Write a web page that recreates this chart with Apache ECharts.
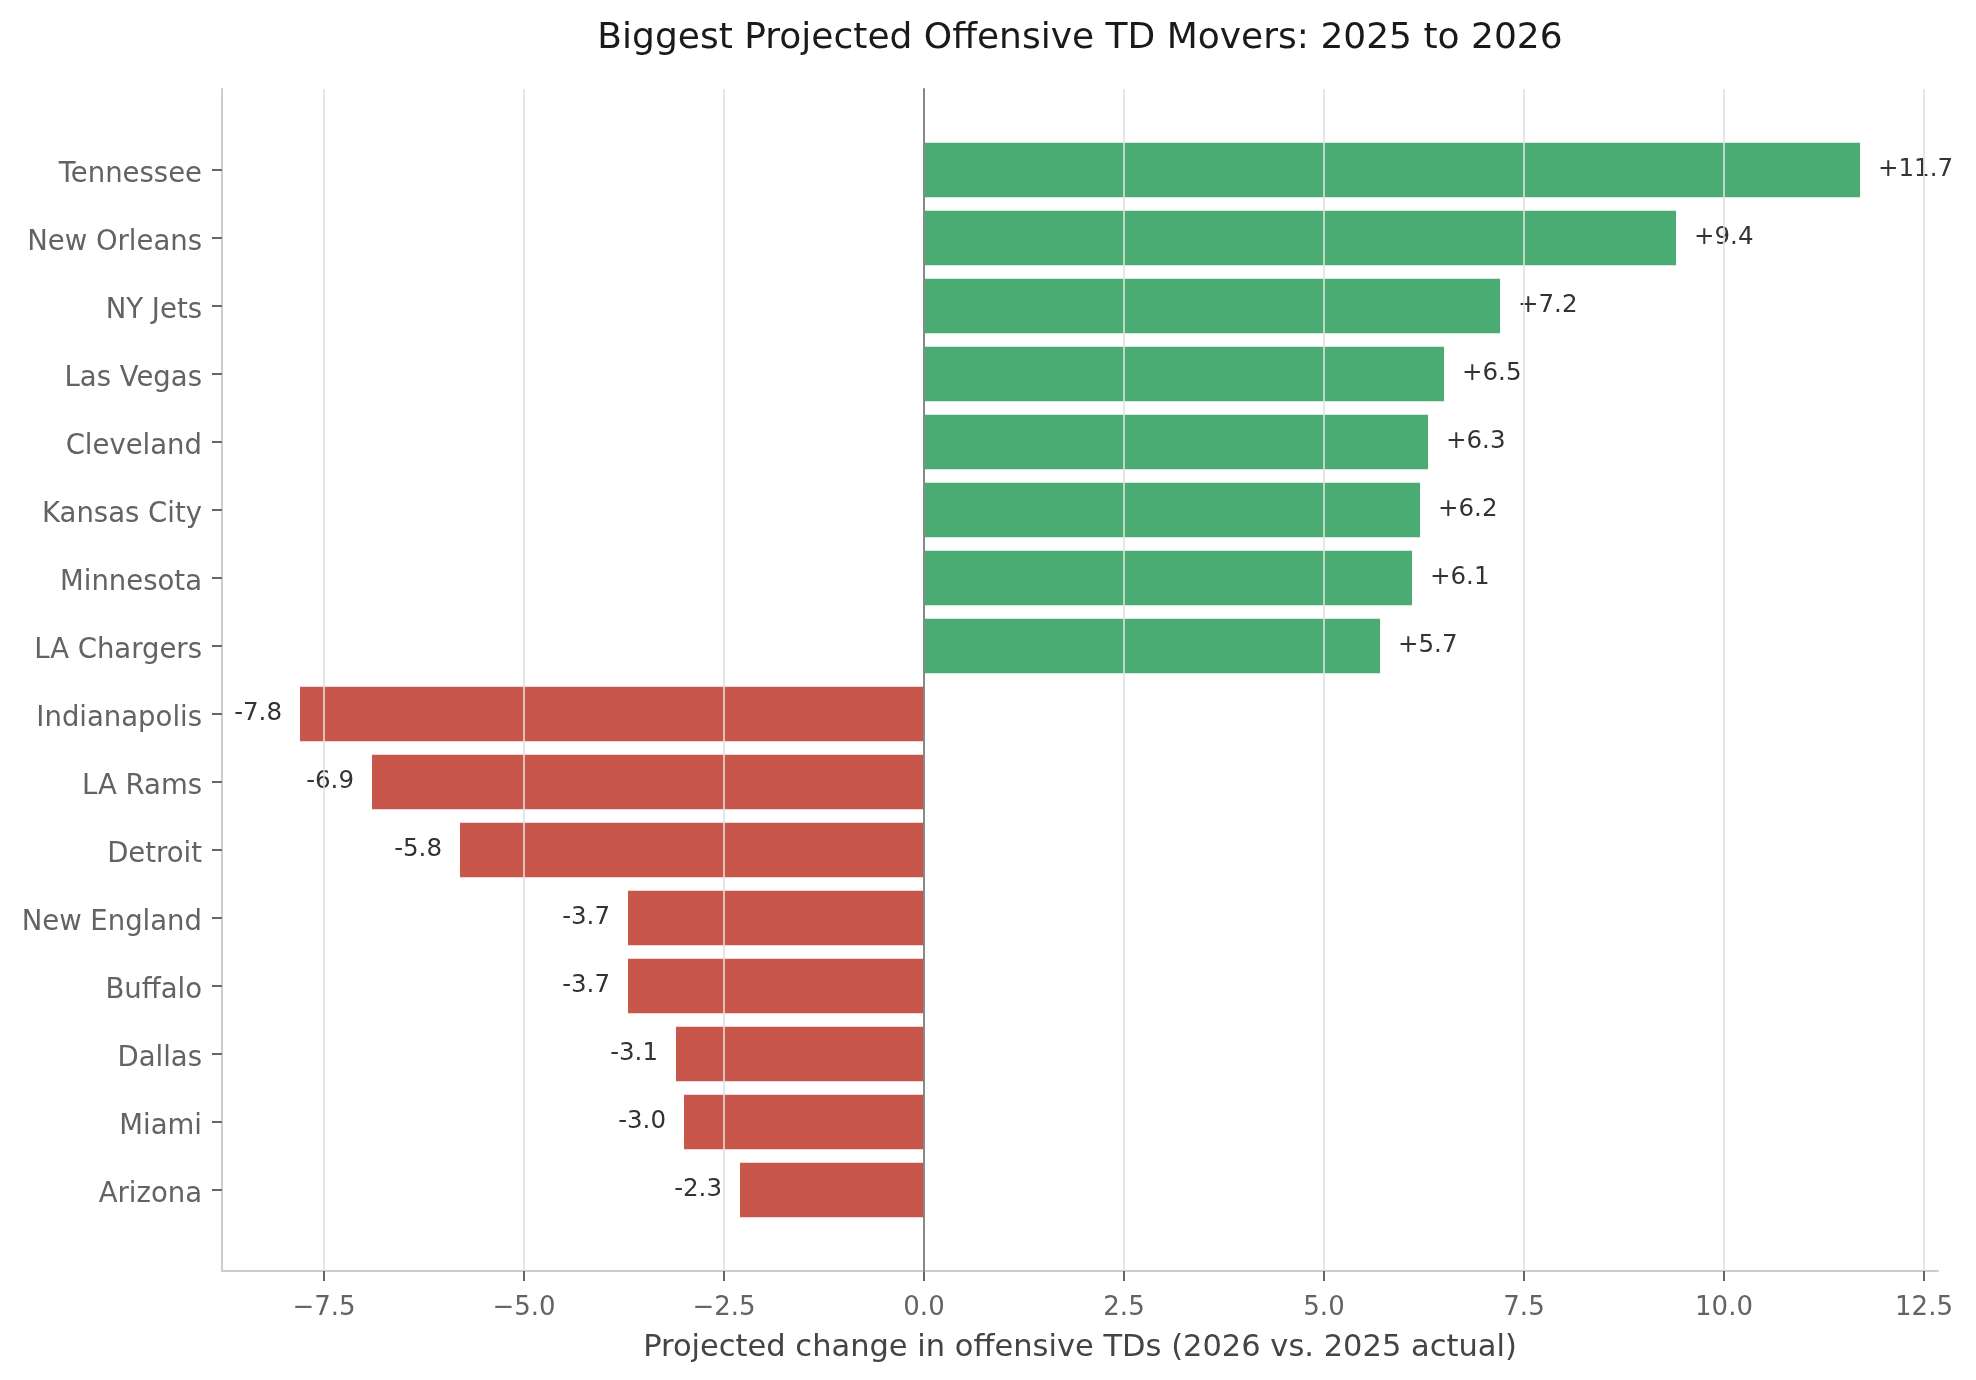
<!DOCTYPE html>
<html>
<head>
<meta charset="utf-8">
<script src="https://cdn.jsdelivr.net/npm/echarts@6/dist/echarts.min.js"></script>
<style>
html, body { margin: 0; padding: 0; background: #fff; }
#chart { width: 1976px; height: 1380px; }
</style>
</head>
<body>
<div id="chart"></div>
<script>
// data
var teams = ['Tennessee', 'New Orleans', 'NY Jets', 'Las Vegas', 'Cleveland', 'Kansas City',
	'Minnesota', 'LA Chargers', 'Indianapolis', 'LA Rams', 'Detroit', 'New England',
	'Buffalo', 'Dallas', 'Miami', 'Arizona'];
var changes = [11.7, 9.4, 7.2, 6.5, 6.3, 6.2, 6.1, 5.7, -7.8, -6.9, -5.8, -3.7, -3.7, -3.1, -3.0, -2.3];
var tickStep = 2.5;

var GREEN = '#4aab73';
var RED = '#c9564b';
var FONT = 'DejaVu Sans';

// page layout (pixels)
var W = 1976, H = 1380;
var L = 222, R = 38, T = 89, B = 109;

// value range with 5% padding, like the source plot
var lo = Math.min.apply(null, changes);
var hi = Math.max.apply(null, changes);
var pad = (hi - lo) * 0.05;
var xMin = lo - pad, xMax = hi + pad;
var ppu = (W - L - R) / (xMax - xMin);
var tickMin = Math.ceil(xMin / tickStep) * tickStep;
var tickMax = Math.floor(xMax / tickStep) * tickStep;

// category band so that bars (80% of band) get 5% padding top and bottom
var n = teams.length;
var span = n - 1 + 0.8;
var band = (H - T - B) / (span * 1.1);
var inset = (span * 0.05 + 0.4 - 0.5) * band;

function fmtTick(v) {
	return (v < 0 ? '\u2212' : '') + Math.abs(v).toFixed(1);
}

var barData = changes.map(function (v) {
	return {
		value: v,
		itemStyle: { color: v >= 0 ? GREEN : RED },
		label: { position: v >= 0 ? 'right' : 'left' }
	};
});

var option = {
	backgroundColor: '#ffffff',
	animation: false,
	textStyle: { fontFamily: FONT },
	title: {
		text: 'Biggest Projected Offensive TD Movers: 2025 to 2026',
		left: L + (W - L - R) / 2 - 5,
		top: 16,
		textAlign: 'center',
		textStyle: { fontFamily: FONT, fontSize: 36, fontWeight: 'normal', color: '#1a1a1a' }
	},
	grid: [
		{ left: L, right: R, top: T, bottom: B },   // frame
		{ left: L, right: R, top: T + inset, bottom: B + inset },   // bars
		{ left: L + (tickMin - xMin) * ppu, right: R + (xMax - tickMax) * ppu, top: T, bottom: B }   // ticks
	],
	xAxis: [
		{
			gridIndex: 0, type: 'value', min: xMin, max: xMax,
			axisLine: { show: true, onZero: false, lineStyle: { color: '#cccccc', width: 2 } },
			axisTick: { show: false }, axisLabel: { show: false }, splitLine: { show: false },
			name: 'Projected change in offensive TDs (2026 vs. 2025 actual)',
			nameLocation: 'middle',
			nameGap: 62,
			nameTextStyle: { fontFamily: FONT, fontSize: 30.5, color: '#444444' }
		},
		{ gridIndex: 1, type: 'value', min: xMin, max: xMax, show: false },
		{
			gridIndex: 2, type: 'value', min: tickMin, max: tickMax, interval: tickStep,
			z: 3,
			axisLine: { show: false },
			axisTick: { show: true, length: 10, lineStyle: { color: '#666666', width: 2 } },
			axisLabel: { fontFamily: FONT, fontSize: 26, color: '#636363', margin: 24, formatter: fmtTick },
			splitLine: { show: true, lineStyle: { color: '#e0e0e0', width: 1.6 } }
		}
	],
	yAxis: [
		{
			gridIndex: 0, type: 'value', min: 0, max: 1, position: 'left',
			axisLine: { show: true, onZero: false, lineStyle: { color: '#cccccc', width: 2 } },
			axisTick: { show: false }, axisLabel: { show: false }, splitLine: { show: false }
		},
		{
			// zero line
			gridIndex: 0, type: 'value', min: 0, max: 1, position: 'left', z: 4,
			axisLine: { show: true, onZero: true, lineStyle: { color: '#888888', width: 2 } },
			axisTick: { show: false }, axisLabel: { show: false }, splitLine: { show: false }
		},
		{
			gridIndex: 1, type: 'category', data: teams, inverse: true, position: 'left',
			axisLine: { show: false, onZero: false },
			axisTick: { show: true, length: 10, alignWithLabel: true, lineStyle: { color: '#666666', width: 2 } },
			axisLabel: {
				fontFamily: FONT, fontSize: 27.5, color: '#636363', margin: 20,
				// nudge the name a little lower, like a centre-baseline label
				formatter: function (v) { return '{s| }{t|' + v + '}'; },
				rich: {
					s: { fontSize: 1, lineHeight: 38 },
					t: { fontFamily: FONT, fontSize: 27.5, color: '#636363', lineHeight: 33, verticalAlign: 'bottom' }
				}
			},
			splitLine: { show: false }
		},
		{ gridIndex: 2, type: 'value', show: false }
	],
	series: [{
		type: 'bar',
		xAxisIndex: 1,
		yAxisIndex: 2,
		barWidth: '80%',
		data: barData,
		label: {
			show: true,
			distance: 18,
			fontFamily: FONT,
			fontSize: 24.5,
			color: '#333333',
			formatter: function (p) {
				return (p.value > 0 ? '+' : '') + p.value.toFixed(1);
			}
		}
	}]
};

var myChart = echarts.init(document.getElementById('chart'));
myChart.setOption(option);
</script>
</body>
</html>
